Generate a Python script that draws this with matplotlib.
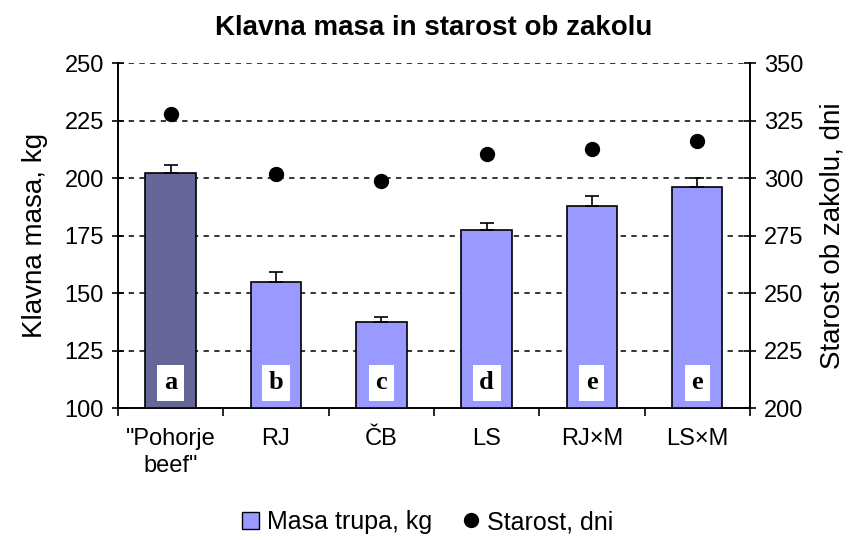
import matplotlib.pyplot as plt
import numpy as np
from matplotlib.patches import Patch
from matplotlib.lines import Line2D

plt.rcParams['font.family'] = ['Liberation Sans', 'DejaVu Sans']

# data
categories = ['"Pohorje\nbeef"', 'RJ', 'ČB', 'LS', 'RJ×M', 'LS×M']
masa = [202.3, 154.7, 137.4, 177.3, 187.8, 196.2]
masa_err = [3.3, 4.6, 2.2, 3.1, 4.5, 3.9]
starost = [327.8, 302.0, 298.8, 310.7, 312.9, 316.2]
letters = ['a', 'b', 'c', 'd', 'e', 'e']

fig = plt.figure(figsize=(8.55, 5.4), dpi=100)
ax = fig.add_axes([0.138, 0.244, 0.739, 0.639])
ax2 = ax.twinx()

x = np.arange(len(categories))
colors = ['#666699'] + ['#9999FF'] * (len(categories) - 1)
ax.bar(x, masa, width=0.48, color=colors, edgecolor='black', linewidth=1.2, zorder=3)
ax.errorbar(x, masa, yerr=[np.zeros(len(masa)), masa_err], fmt='none',
            ecolor='black', elinewidth=1.2, capsize=5, capthick=1.2, zorder=4)

for xi, lab in zip(x, letters):
    ax.text(xi, 111, lab, ha='center', va='center', fontsize=19, fontweight='bold',
            family='Liberation Serif', zorder=5,
            bbox=dict(facecolor='white', edgecolor='none', boxstyle='square,pad=0.25'))

ax2.plot(x, starost, 'o', color='black', markersize=10, zorder=6)

ax.set_xlim(-0.5, len(categories) - 0.5)
ax.set_ylim(100, 250)
ax2.set_ylim(200, 350)
ax.set_yticks(np.arange(100, 251, 25))
ax2.set_yticks(np.arange(200, 351, 25))

for yv in np.arange(125, 251, 25):
    ax.axhline(yv, color='black', linestyle=(0, (3.5, 3.5)), linewidth=1.1, zorder=1)

ax.set_xticks(x)
ax.set_xticklabels(categories, fontsize=17, linespacing=1.3)
ax.set_xticks(np.arange(-0.5, len(categories), 1), minor=True)
ax.tick_params(axis='x', which='major', length=0, pad=14)
ax.tick_params(axis='x', which='minor', length=6, width=1.2, direction='out')
ax.tick_params(axis='y', labelsize=17, length=8, width=1.2, direction='inout', pad=6)
ax2.tick_params(axis='y', labelsize=17, length=8, width=1.2, direction='inout', pad=6)

for a in (ax, ax2):
    a.spines['top'].set_visible(False)
    for s in ('left', 'right', 'bottom'):
        a.spines[s].set_linewidth(1.2)

ax.set_ylabel('Klavna masa, kg', fontsize=20, labelpad=12)
ax2.set_ylabel('Starost ob zakolu, dni', fontsize=20, labelpad=12)
ax.set_title('Klavna masa in starost ob zakolu', fontsize=20, fontweight='bold', pad=20)

handles = [Patch(facecolor='#9999FF', edgecolor='black', linewidth=1),
           Line2D([], [], marker='o', color='black', linestyle='none', markersize=10)]
fig.legend(handles, ['Masa trupa, kg', 'Starost, dni'], loc='center', bbox_to_anchor=(0.5, 0.033),
           ncol=2, frameon=False, fontsize=18, handlelength=0.7, handleheight=0.7,
           handletextpad=0.3, columnspacing=1.2)

fig.savefig('out.png', dpi=100)
